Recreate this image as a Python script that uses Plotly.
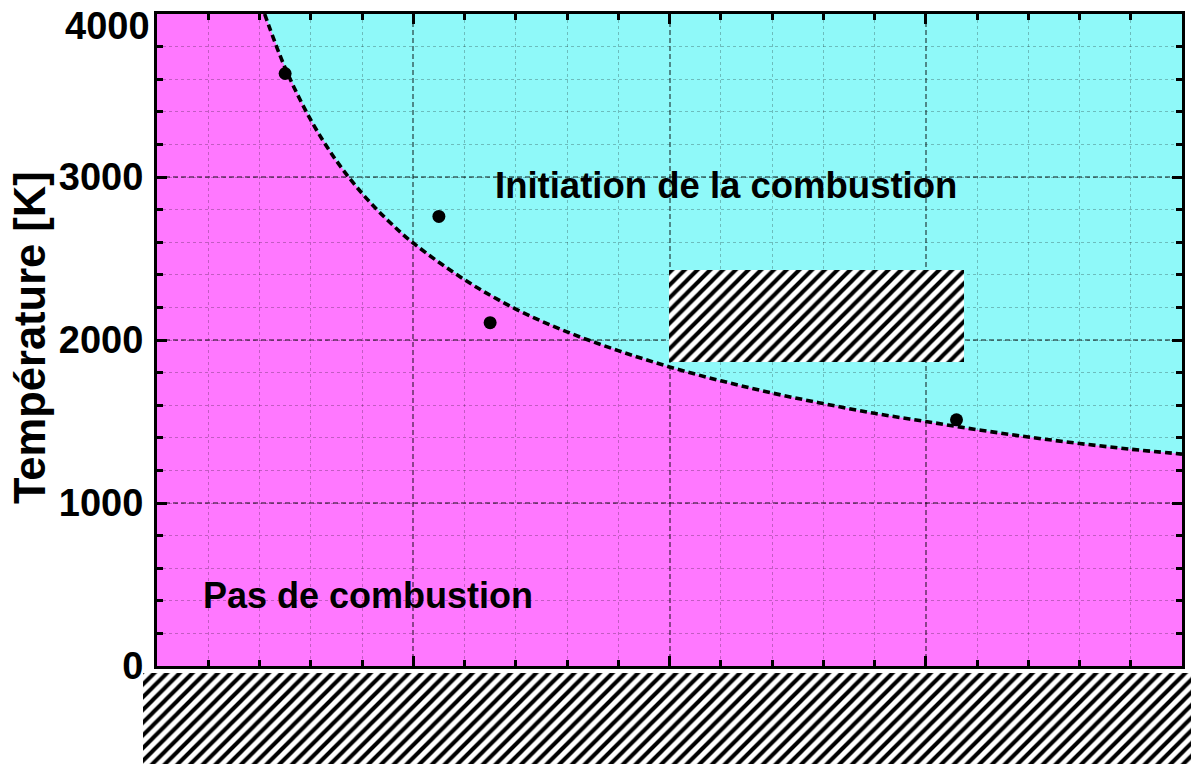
import plotly.graph_objects as go

# Ignition boundary (dashed curve): temperature vs. x
curve_x = [2.1, 2.5, 3, 3.5, 4, 4.5, 5, 6, 7, 8, 9, 10, 11, 12, 13, 14, 15, 16, 17, 18, 19, 20]
curve_t = [4000, 3670, 3350, 3100, 2900, 2735, 2595, 2370, 2190, 2050, 1935, 1835,
           1750, 1675, 1610, 1550, 1500, 1450, 1405, 1365, 1330, 1300]

# Measured points
pts_x = [2.5, 5.5, 6.5, 15.6]
pts_t = [3635, 2758, 2106, 1510]

# Axis settings
X_RANGE = [0, 20]
T_RANGE = [0, 4000]
y_tickvals = [0, 1000, 2000, 3000, 4000]
y_ticktext = ["0", "1000", "2000", "3000", "4000"]

PINK = "#FF78FF"
CYAN = "#8FF9F9"
W, H = 1191, 764

# Cyan region above the boundary, built from the curve points
path = "M {} {}".format(curve_x[0], curve_t[0])
for cx, ct in zip(curve_x[1:], curve_t[1:]):
    path += " L {} {}".format(cx, ct)
path += " L {} {} L {} {} Z".format(X_RANGE[1], T_RANGE[1], curve_x[0], T_RANGE[1])

fig = go.Figure()

fig.add_trace(go.Scatter(
    x=curve_x, y=curve_t, mode="lines", line_shape="spline",
    line=dict(color="black", width=3.6, dash="7px,4px"),
    showlegend=False, hoverinfo="skip"))

fig.add_trace(go.Scatter(
    x=pts_x, y=pts_t, mode="markers",
    marker=dict(color="black", size=13, line=dict(width=0)),
    showlegend=False))

# Hatched blocks (pixel space overlay)
hatch_boxes = [  # (left, top, right, bottom) in page pixels
    (143, 673, 1191, 764),
    (669, 270, 964, 362),
]
fig.add_trace(go.Bar(
    x=[(b[0] + b[2]) / 2 for b in hatch_boxes],
    width=[b[2] - b[0] for b in hatch_boxes],
    base=[b[1] for b in hatch_boxes],
    y=[b[3] - b[1] for b in hatch_boxes],
    xaxis="x2", yaxis="y2",
    marker=dict(color="white", line=dict(width=0),
                pattern=dict(shape="/", fgcolor="black", bgcolor="white",
                             fillmode="replace", fgopacity=1,
                             size=9, solidity=0.45)),
    showlegend=False, hoverinfo="skip"))

grid_minor = "rgba(0,0,0,0.24)"
grid_major = "rgba(0,0,0,0.45)"
bold = dict(family="Liberation Sans, Arial, sans-serif", color="black", weight="bold")

# The top tick label sits just inside the figure, below its tick
top_label = y_ticktext[-1]
axis_ticktext = y_ticktext[:-1] + [""]

fig.update_layout(
    template="none",
    width=W, height=H, autosize=False,
    margin=dict(l=0, r=0, t=0, b=0, pad=0),
    paper_bgcolor="white",
    plot_bgcolor="rgba(0,0,0,0)",
    xaxis=dict(
        domain=[157 / W, 1182 / W], range=X_RANGE, anchor="y", automargin=False,
        showline=True, linecolor="black", linewidth=3, mirror="ticks",
        ticks="inside", ticklen=10, tickwidth=3, tickcolor="black",
        dtick=5, tick0=0, showticklabels=False,
        showgrid=True, gridcolor=grid_major, griddash="5px,3px", gridwidth=1.5,
        zeroline=False,
        minor=dict(dtick=1, ticks="inside", ticklen=6, tickwidth=2.5, tickcolor="black",
                   showgrid=True, gridcolor=grid_minor, griddash="3px,3px", gridwidth=1.2),
    ),
    yaxis=dict(
        domain=[1 - 666 / H, 1 - 14 / H], range=T_RANGE, anchor="x", automargin=False,
        showline=True, linecolor="black", linewidth=3, mirror="ticks",
        ticks="inside", ticklen=10, tickwidth=3, tickcolor="black",
        tickvals=y_tickvals, ticktext=axis_ticktext, ticklabeloverflow="allow",
        tickfont=dict(size=38, **bold), ticklabelstandoff=3,
        showgrid=True, gridcolor=grid_major, griddash="5px,3px", gridwidth=1.5,
        zeroline=False,
        minor=dict(dtick=200, ticks="inside", ticklen=6, tickwidth=2.5, tickcolor="black",
                   showgrid=True, gridcolor=grid_minor, griddash="3px,3px", gridwidth=1.2),
    ),
    xaxis2=dict(domain=[0, 1], range=[0, W], anchor="y2", visible=False,
                fixedrange=True, automargin=False),
    yaxis2=dict(domain=[0, 1], range=[H, 0], anchor="x2", visible=False,
                fixedrange=True, automargin=False),
    bargap=0,
    shapes=[
        dict(type="rect", xref="x domain", yref="y domain", x0=0, x1=1, y0=0, y1=1,
             fillcolor=PINK, line=dict(width=0), layer="below"),
        dict(type="path", xref="x", yref="y", path=path,
             fillcolor=CYAN, line=dict(width=0), layer="below"),
    ],
    annotations=[
        dict(x=0, y=y_tickvals[-1], xref="x", yref="y", xanchor="right", yanchor="middle",
             xshift=-5, yshift=-12, text=top_label, showarrow=False,
             font=dict(size=38, **bold)),
        dict(x=30 / W, y=1 - 338 / H, xref="paper", yref="paper", textangle=-90,
             xanchor="center", yanchor="middle",
             text="Température [K]", showarrow=False, font=dict(size=43.5, **bold)),
        dict(x=11.1, y=2950, xref="x", yref="y", text="Initiation de la combustion",
             showarrow=False, font=dict(size=36.5, **bold)),
        dict(x=0.86, y=430, xref="x", yref="y", xanchor="left", text="Pas de combustion",
             showarrow=False, font=dict(size=36, **bold)),
    ],
)

fig.write_html("out.html")
